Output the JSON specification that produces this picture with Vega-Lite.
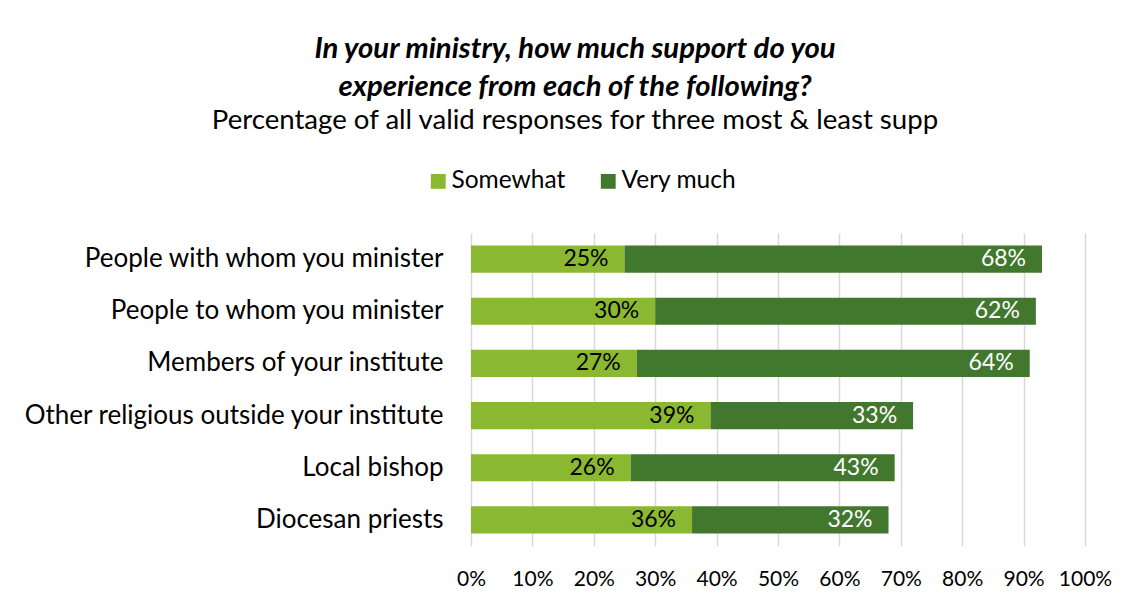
{
  "$schema": "https://vega.github.io/schema/vega-lite/v6.json",
  "autosize": {"type": "none"},
  "width": 614,
  "height": 313,
  "padding": {"left": 471, "top": 233, "right": 50, "bottom": 68},
  "background": "white",
  "title": {
    "text": ["In your ministry, how much support do you", "experience from each of the following?"],
    "subtitle": "Percentage of all valid responses for three most & least supp",
    "anchor": "middle",
    "frame": "group",
    "dx": -203,
    "offset": 34,
    "font": "Lato",
    "fontSize": 29.3,
    "fontStyle": "italic",
    "fontWeight": "bold",
    "lineHeight": 38,
    "color": "#000000",
    "subtitleFont": "Lato",
    "subtitleFontSize": 27.6,
    "subtitleColor": "#000000",
    "subtitlePadding": 5
  },
  "data": {
    "values": [
      {"group": "People with whom you minister", "series": "Somewhat", "value": 25, "label": "25%"},
      {"group": "People with whom you minister", "series": "Very much", "value": 68, "label": "68%"},
      {"group": "People to whom you minister", "series": "Somewhat", "value": 30, "label": "30%"},
      {"group": "People to whom you minister", "series": "Very much", "value": 62, "label": "62%"},
      {"group": "Members of your institute", "series": "Somewhat", "value": 27, "label": "27%"},
      {"group": "Members of your institute", "series": "Very much", "value": 64, "label": "64%"},
      {"group": "Other religious outside your institute", "series": "Somewhat", "value": 39, "label": "39%"},
      {"group": "Other religious outside your institute", "series": "Very much", "value": 33, "label": "33%"},
      {"group": "Local bishop", "series": "Somewhat", "value": 26, "label": "26%"},
      {"group": "Local bishop", "series": "Very much", "value": 43, "label": "43%"},
      {"group": "Diocesan priests", "series": "Somewhat", "value": 36, "label": "36%"},
      {"group": "Diocesan priests", "series": "Very much", "value": 32, "label": "32%"}
    ]
  },
  "transform": [
    {"stack": "value", "groupby": ["group"], "sort": [{"field": "series", "order": "ascending"}], "as": ["v0", "v1"]}
  ],
  "encoding": {
    "y": {
      "field": "group",
      "type": "nominal",
      "sort": ["People with whom you minister", "People to whom you minister", "Members of your institute", "Other religious outside your institute", "Local bishop", "Diocesan priests"],
      "scale": {"paddingInner": 0.48, "paddingOuter": 0.24},
      "axis": {
        "title": null,
        "ticks": false,
        "domain": false,
        "labelFont": "Lato",
        "labelFontSize": 26,
        "labelColor": "#000000",
        "labelPadding": 28,
        "labelLimit": 500
      }
    }
  },
  "layer": [
    {
      "mark": {"type": "bar"},
      "encoding": {
        "x": {
          "field": "v0",
          "type": "quantitative",
          "scale": {"domain": [0, 100], "nice": false},
          "axis": {
            "title": null,
            "values": [0, 10, 20, 30, 40, 50, 60, 70, 80, 90, 100],
            "labelExpr": "datum.value + '%'",
            "ticks": false,
            "domain": false,
            "grid": true,
            "gridColor": "#d9d9d9",
            "gridWidth": 1.5,
            "labelFont": "Lato",
            "labelFontSize": 21,
            "labelColor": "#000000",
            "labelPadding": 22,
            "labelFlush": false
          }
        },
        "x2": {"field": "v1"},
        "color": {
          "field": "series",
          "type": "nominal",
          "scale": {"domain": ["Somewhat", "Very much"], "range": ["#8bb831", "#41782e"]},
          "legend": {
            "title": null,
            "orient": "none",
            "legendX": -45,
            "legendY": -64,
            "direction": "horizontal",
            "symbolType": "square",
            "symbolSize": 220,
            "symbolStrokeWidth": 0,
            "labelFont": "Lato",
            "labelFontSize": 24.5,
            "labelColor": "#000000",
            "columnPadding": 30,
            "labelOffset": 1
          }
        }
      }
    },
    {
      "mark": {"type": "text", "align": "right", "baseline": "middle", "dx": -16, "font": "Lato", "fontSize": 23},
      "encoding": {
        "x": {"field": "v1", "type": "quantitative"},
        "text": {"field": "label", "type": "nominal"},
        "color": {"condition": {"test": "datum.series === 'Very much'", "value": "white"}, "value": "black"}
      }
    }
  ],
  "config": {"view": {"stroke": null}}
}
